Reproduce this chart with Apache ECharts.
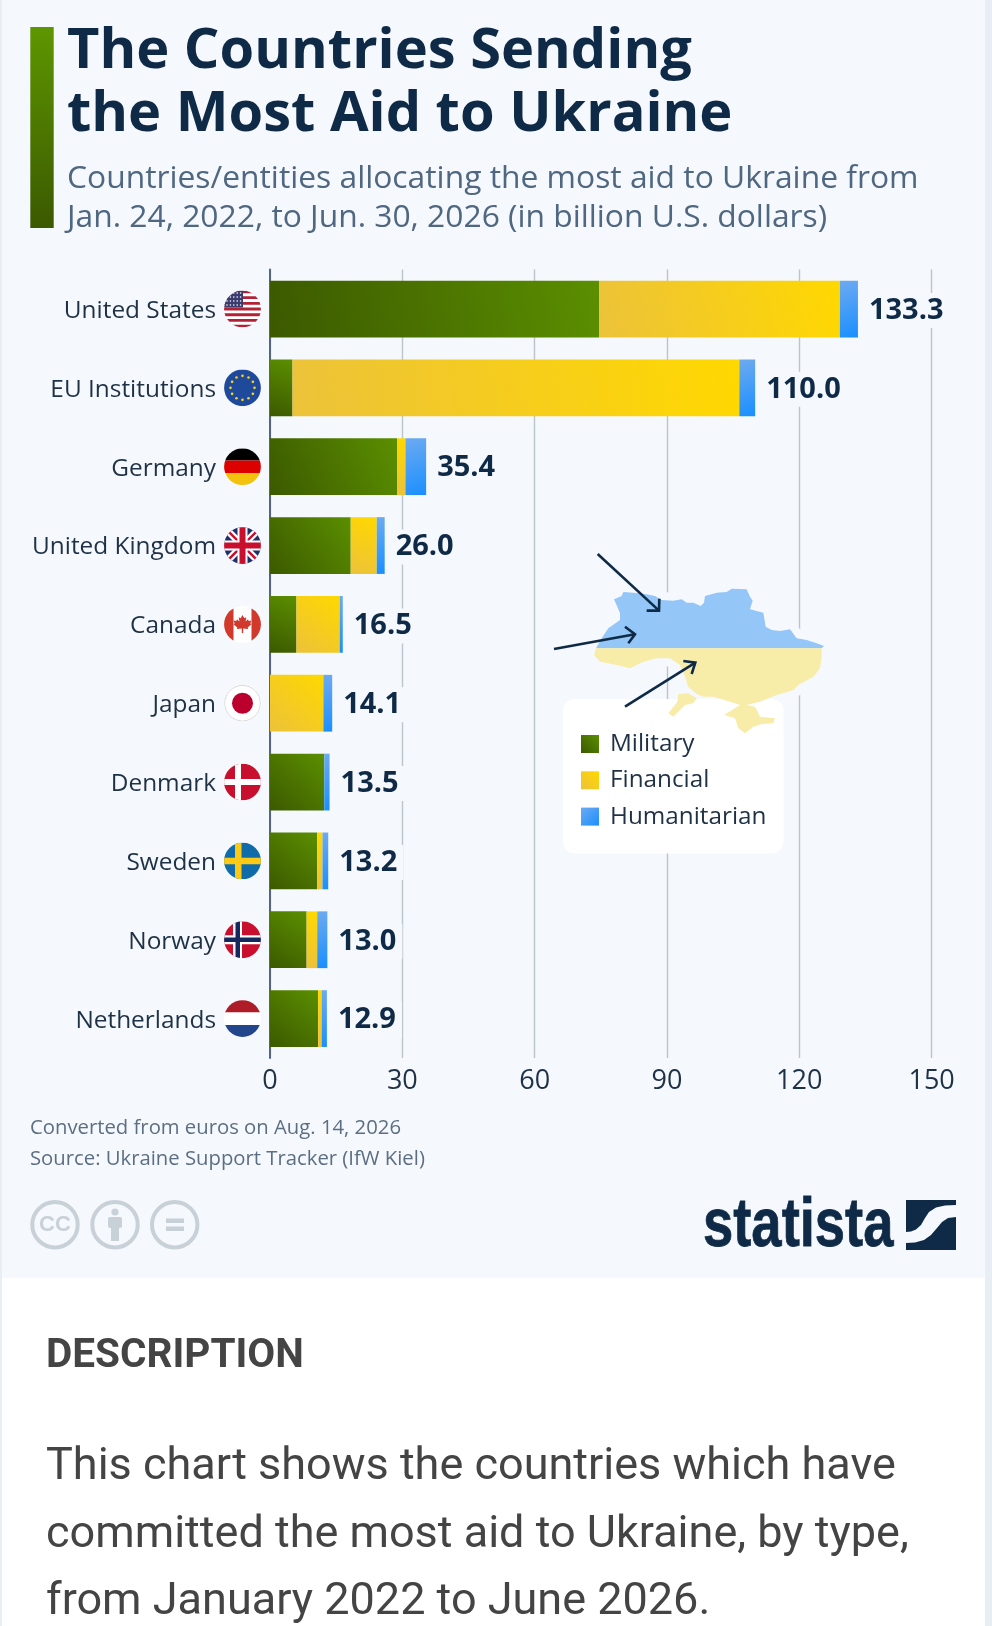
<!DOCTYPE html>
<html>
<head>
<meta charset="utf-8">
<title>The Countries Sending the Most Aid to Ukraine</title>
<script src="https://cdn.jsdelivr.net/npm/echarts@6/dist/echarts.min.js"></script>
<style>
html,body{margin:0;padding:0;background:#e9eef4;}
#wrap{position:relative;width:992px;height:1626px;overflow:hidden;}
#white{position:absolute;left:2px;top:1278px;width:983px;height:348px;background:#fff;}
#panel{position:absolute;left:2px;top:0;width:983px;height:1278px;background:#f5f8fc;}
#chart{position:absolute;left:0;top:0;width:992px;height:1626px;}
</style>
</head>
<body>
<div id="wrap"><div id="panel"></div><div id="white"></div><div id="chart"></div></div>
<script>
var categories = ['United States','EU Institutions','Germany','United Kingdom','Canada','Japan','Denmark','Sweden','Norway','Netherlands'];
var military     = [74.6, 5.1, 28.8, 18.3, 6.0, 0, 12.3, 10.7, 8.3, 10.9];
var financial    = [54.6, 101.3, 1.9, 5.9, 9.8, 12.1, 0, 1.2, 2.4, 0.8];
var humanitarian = [4.1, 3.6, 4.7, 1.8, 0.7, 2.0, 1.2, 1.3, 2.3, 1.2];
var totals       = [133.3, 110.0, 35.4, 26.0, 16.5, 14.1, 13.5, 13.2, 13.0, 12.9];
var xTicks = [0, 30, 60, 90, 120, 150];
var titleText = 'The Countries Sending\nthe Most Aid to Ukraine';
var subtitleText = 'Countries/entities allocating the most aid to Ukraine from\nJan. 24, 2022, to Jun. 30, 2026 (in billion U.S. dollars)';
var noteLines = ['Converted from euros on Aug. 14, 2026', 'Source: Ukraine Support Tracker (IfW Kiel)'];
var descHeading = 'DESCRIPTION';
var descLines = ['This chart shows the countries which have', 'committed the most aid to Ukraine, by type,', 'from January 2022 to June 2026.'];

var PANEL = '#f5f8fc', INK = '#0f2a47', LABEL = '#1f3145';
var FONT = '"Open Sans", sans-serif';

function flagSvg(body){
  var s = '<svg xmlns="http://www.w3.org/2000/svg" width="148" height="148" viewBox="0 0 37 37">' +
    '<defs><clipPath id="c"><circle cx="18.5" cy="18.5" r="18.4"/></clipPath></defs>' +
    '<g clip-path="url(#c)">' + body + '</g></svg>';
  return 'data:image/svg+xml;charset=utf-8,' + encodeURIComponent(s);
}
function r(x,y,w,h,f){return '<rect x="'+x+'" y="'+y+'" width="'+w+'" height="'+h+'" fill="'+f+'"/>';}
function usFlag(){
  var b = r(0,0,37,37,'#fff'), i, j;
  for(i=0;i<7;i++){ b += r(0,i*5.7,37,2.85,'#b22234'); }
  b += r(0,0,19,17,'#3c3b6e');
  for(j=0;j<4;j++){ for(i=0;i<5;i++){ b += '<circle cx="'+(3+i*3.4)+'" cy="'+(2.5+j*4)+'" r="0.8" fill="#fff"/>'; } }
  return b;
}
function euFlag(){
  var b = r(0,0,37,37,'#1f4a9c'), i;
  for(i=0;i<12;i++){
    var a = i*Math.PI/6;
    b += '<circle cx="'+(18.5+12*Math.cos(a))+'" cy="'+(18.5+12*Math.sin(a))+'" r="1.3" fill="#f5d327"/>';
  }
  return b;
}
var flags = [
  usFlag(),
  euFlag(),
  r(0,0,37,12.4,'#000')+r(0,12.4,37,12.4,'#dd0000')+r(0,24.8,37,12.4,'#f4c20d'),
  r(0,0,37,37,'#1f2f6b')+'<path d="M0 0L37 37M37 0L0 37" stroke="#fff" stroke-width="7"/><path d="M0 0L37 37M37 0L0 37" stroke="#c8102e" stroke-width="2.4"/>'+r(13.5,0,10,37,'#fff')+r(0,13.5,37,10,'#fff')+r(15.5,0,6,37,'#c8102e')+r(0,15.5,37,6,'#c8102e'),
  r(0,0,37,37,'#fff')+r(0,0,9.5,37,'#d0392b')+r(27.5,0,9.5,37,'#d0392b')+'<path d="M18.5 9L20.3 12.3L22.3 11.3L21.6 15.6L24 13.4L24.7 15L27.3 14.6L26.4 17.6L27.4 18.3L23.7 21.5L24.2 23.2L19.2 22.6L19.2 27L17.8 27L17.8 22.6L12.8 23.2L13.3 21.5L9.6 18.3L10.6 17.6L9.7 14.6L12.3 15L13 13.4L15.4 15.6L14.7 11.3L16.7 12.3Z" fill="#d0392b"/>',
  '<circle cx="18.5" cy="18.5" r="18.4" fill="#fff"/><circle cx="18.5" cy="18.5" r="17.8" fill="none" stroke="#d8d8d8" stroke-width="1"/><circle cx="18.5" cy="18.5" r="10.5" fill="#bc002d"/>',
  r(0,0,37,37,'#c8102e')+r(11,0,6,37,'#fff')+r(0,15.5,37,6,'#fff'),
  r(0,0,37,37,'#0f6ca8')+r(11,0,6.5,37,'#fcc917')+r(0,15.3,37,6.5,'#fcc917'),
  r(0,0,37,37,'#c8102e')+r(9,0,9,37,'#fff')+r(0,14,37,9,'#fff')+r(11.5,0,4.5,37,'#14285f')+r(0,16.3,37,4.5,'#14285f'),
  r(0,0,37,12.4,'#ae1c28')+r(0,12.4,37,12.4,'#fff')+r(0,24.8,37,12.4,'#21468b')
];

var richStyles = { n: { fontFamily: FONT, fontSize: 24.4, color: LABEL, padding: [4, 8, 0, 0] } };
flags.forEach(function(b, i){
  richStyles['f' + i] = { width: 37, height: 37, backgroundColor: { image: flagSvg(b) } };
});

function grad(x, y, x2, y2, a, b){
  return { type: 'linear', x: x, y: y, x2: x2, y2: y2, colorStops: [{ offset: 0, color: a }, { offset: 1, color: b }] };
}
var milColor = grad(0, 1, 1, 0, '#3c5900', '#5b8f00');
var finColor = grad(0, 1, 1, 0, '#ecc23a', '#ffd800');
var humColor = grad(0, 0, 1, 1, '#6daaf0', '#1a8fff');

function barSeries(name, data, color, withLabel){
  var s = { name: name, type: 'bar', stack: 'total', data: data, barWidth: '72%', itemStyle: { color: color }, emphasis: { disabled: true } };
  if (withLabel) {
    s.label = {
      show: true, position: 'right', distance: 5, offset: [0, 1.5],
      formatter: function(p){ return totals[p.dataIndex].toFixed(1); },
      fontFamily: FONT, fontSize: 29, fontWeight: 700, color: INK,
      backgroundColor: PANEL, padding: [3, 6, 3, 6]
    };
  }
  return s;
}

function pts(list){ return list.map(function(p){ return [590 + p[0] / 3, 570 + p[1] / 3]; }); }
function apts(list){ return list.map(function(p){ return [500 + p[0] / 3, 500 + p[1] / 3]; }); }
var mapTop = pts([[18,235],[35,205],[55,175],[90,150],[90,130],[82,110],[72,88],[95,78],[100,66],[130,68],[165,72],[195,78],[215,90],[250,92],[275,88],[290,98],[310,98],[332,108],[342,98],[345,78],[380,68],[410,66],[425,56],[470,58],[480,80],[488,92],[480,118],[520,128],[527,170],[545,180],[570,183],[600,178],[620,205],[650,210],[680,220],[702,228],[695,235]]);
var mapBottom = pts([[695,235],[695,260],[690,295],[670,320],[625,345],[610,360],[560,375],[510,395],[470,405],[495,410],[510,440],[555,445],[550,460],[515,462],[490,470],[465,490],[445,475],[435,445],[402,435],[430,418],[450,405],[420,395],[370,380],[340,380],[320,372],[295,350],[285,320],[270,285],[240,265],[200,265],[160,275],[120,295],[80,285],[30,275],[12,255],[18,235]]);
var mapIsle = pts([[235,430],[262,395],[265,372],[295,370],[320,385],[310,400],[285,405],[250,440]]);
var arrows = [
  [[293,162],[477,332]], [[162,447],[405,403]], [[375,620],[586,488]]
];
var heads = [
  [[478,296],[477,332],[440,332]], [[375,380],[405,403],[385,430]], [[550,483],[586,488],[575,522]]
];
var logoUpper = [[906,1200],[956,1200],[956,1205],[945,1205.5],[936,1207.5],[929,1212],[925,1218],[921,1225],[916,1229.5],[911,1231.5],[906,1232]];
var logoLower = [[956,1217],[956,1250],[906,1250],[906,1243],[915,1242.5],[924,1240],[931,1235],[937,1228],[942,1222],[948,1218],[956,1217]];

var graphics = [];
graphics.push({ type: 'rect', shape: { x: 30.3, y: 27, width: 23.4, height: 201 }, style: { fill: grad(0, 0, 0, 1, '#5e9600', '#3b5900') } });
[mapTop, mapBottom, mapIsle].forEach(function(p){
  graphics.push({ type: 'polygon', z: 3, shape: { points: p }, style: { fill: PANEL, stroke: PANEL, lineWidth: 16, lineJoin: 'round' } });
});
graphics.push({ type: 'polygon', z: 6, shape: { points: mapTop }, style: { fill: '#94c6f8' } });
graphics.push({ type: 'polygon', z: 6, shape: { points: mapBottom }, style: { fill: '#f7eda9' } });
graphics.push({ type: 'polygon', z: 6, shape: { points: mapIsle }, style: { fill: '#f7eda9' } });
arrows.forEach(function(a){
  graphics.push({ type: 'polyline', z: 7, shape: { points: apts(a) }, style: { stroke: INK, lineWidth: 2.6, fill: null } });
});
heads.forEach(function(a){
  graphics.push({ type: 'polyline', z: 7, shape: { points: apts(a) }, style: { stroke: INK, lineWidth: 2.6, fill: null } });
});
noteLines.forEach(function(t, i){
  graphics.push({ type: 'text', style: { text: t, x: 30, y: 1128 + i * 31, font: '20.3px ' + FONT, fill: '#5c6f82', verticalAlign: 'middle' } });
});
// Creative Commons icons
[55, 115, 174.7].forEach(function(cx){
  graphics.push({ type: 'circle', shape: { cx: cx, cy: 1224.7, r: 22.7 }, style: { fill: 'none', stroke: '#c8d1d8', lineWidth: 4 } });
});
graphics.push({ type: 'text', style: { text: 'CC', x: 55, y: 1225, font: 'bold 22px "Liberation Sans", sans-serif', fill: '#c8d1d8', align: 'center', verticalAlign: 'middle' } });
graphics.push({ type: 'circle', shape: { cx: 115, cy: 1212, r: 3.6 }, style: { fill: '#c8d1d8' } });
graphics.push({ type: 'rect', shape: { x: 108, y: 1217, width: 14, height: 11, r: 2 }, style: { fill: '#c8d1d8' } });
graphics.push({ type: 'rect', shape: { x: 111, y: 1226, width: 8, height: 15 }, style: { fill: '#c8d1d8' } });
graphics.push({ type: 'rect', shape: { x: 166, y: 1218.5, width: 18, height: 4.5 }, style: { fill: '#c8d1d8' } });
graphics.push({ type: 'rect', shape: { x: 166, y: 1226.5, width: 18, height: 4.5 }, style: { fill: '#c8d1d8' } });
// Statista logo
graphics.push({ type: 'text', x: 703, y: 1227, scaleX: 0.8, style: { text: 'statista', x: 0, y: 0, font: 'bold 68px "Liberation Sans", sans-serif', fill: INK, stroke: INK, lineWidth: 0.8, verticalAlign: 'middle' } });
graphics.push({ type: 'polygon', shape: { points: logoUpper }, style: { fill: INK } });
graphics.push({ type: 'polygon', shape: { points: logoLower }, style: { fill: INK } });
// Description block
graphics.push({ type: 'text', style: { text: descHeading, x: 46, y: 1357, font: 'bold 40.5px Roboto, sans-serif', fill: '#444444', verticalAlign: 'middle' } });
descLines.forEach(function(t, i){
  graphics.push({ type: 'text', style: { text: t, x: 46, y: 1468 + i * 67.5, font: '45px Roboto, sans-serif', fill: '#444444', verticalAlign: 'middle' } });
});

var chart = echarts.init(document.getElementById('chart'), null, { width: 992, height: 1626 });
chart.setOption({
  animation: false,
  title: {
    left: 62, top: 16, itemGap: 12,
    text: titleText,
    subtext: subtitleText,
    textStyle: { fontFamily: FONT, fontSize: 56, fontWeight: 700, color: INK, lineHeight: 63 },
    subtextStyle: { fontFamily: FONT, fontSize: 31.8, fontWeight: 400, color: '#4f6780', lineHeight: 39.5 }
  },
  legend: {
    left: 563, top: 699, orient: 'vertical', icon: 'rect',
    itemWidth: 18, itemHeight: 18, itemGap: 12.3, selectedMode: false,
    padding: [33, 17, 25, 18],
    backgroundColor: '#ffffff', borderRadius: 12,
    textStyle: { fontFamily: FONT, fontSize: 24.3, color: LABEL, padding: [0, 0, 0, 6] },
    data: ['Military', 'Financial', 'Humanitarian']
  },
  grid: { left: 270, right: 60.4, top: 269.6, height: 788.4 },
  xAxis: {
    type: 'value', min: xTicks[0], max: xTicks[xTicks.length - 1], interval: xTicks[1] - xTicks[0],
    axisLine: { show: false }, axisTick: { show: false },
    axisLabel: { fontFamily: FONT, fontSize: 27, color: LABEL, margin: 10 },
    splitLine: { show: true, lineStyle: { color: '#bcc4cc', width: 1.4 } }
  },
  yAxis: {
    type: 'category', inverse: true, data: categories,
    axisLine: { show: true, lineStyle: { color: '#56667a', width: 2 } },
    axisTick: { show: false },
    axisLabel: {
      margin: 9, interval: 0,
      formatter: function(v){ var i = categories.indexOf(v); return '{n|' + v + '}{f' + i + '|}'; },
      rich: richStyles
    }
  },
  series: [
    barSeries('Military', military, milColor, false),
    barSeries('Financial', financial, finColor, false),
    barSeries('Humanitarian', humanitarian, humColor, true)
  ],
  graphic: { elements: graphics }
});
</script>
</body>
</html>
